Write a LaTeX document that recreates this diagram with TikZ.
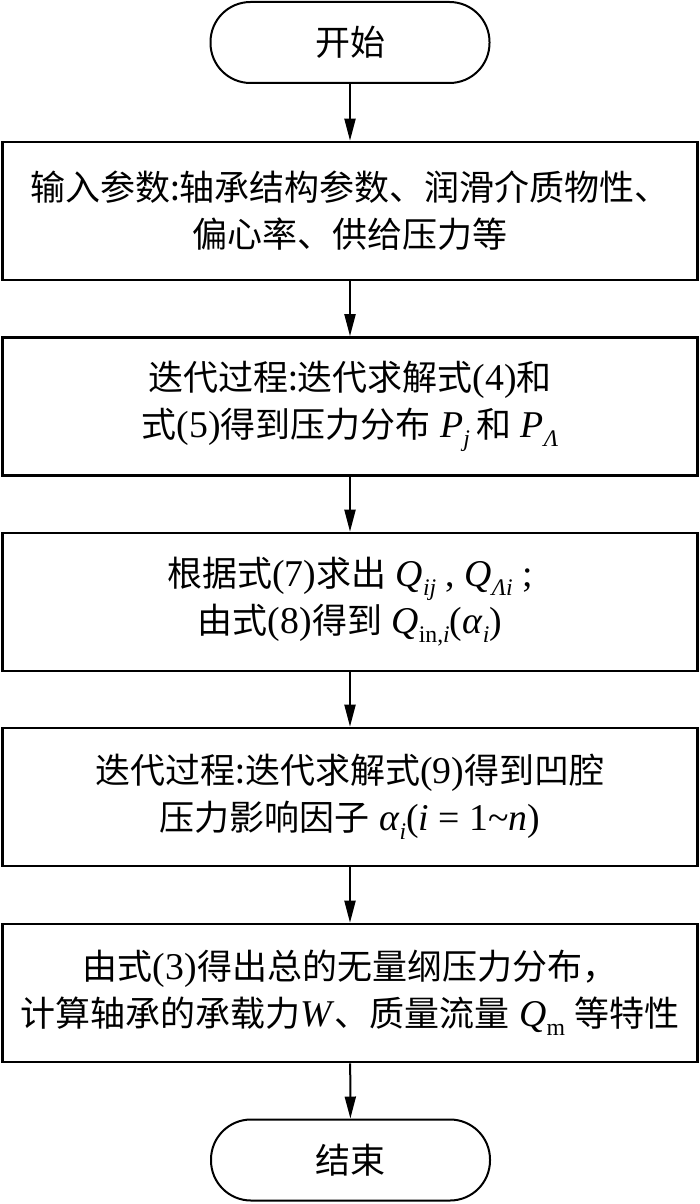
\documentclass[tikz,border=0pt]{standalone}
\usepackage{fontspec}
\setmainfont[Scale=1.08]{Liberation Serif}
\newfontfamily\cjk{Noto Sans CJK SC}
\usetikzlibrary{arrows.meta}
\newcommand\C[1]{{\cjk #1}}
\newcommand\sbs[1]{\raisebox{-9pt}{\fontsize{22}{22}\selectfont #1}}
\begin{document}
\begin{tikzpicture}[x=1pt,y=-1pt,
  box/.style={draw,line width=2.6pt,minimum width=695pt,minimum height=138pt,align=center,inner sep=0pt,font=\fontsize{35}{47}\selectfont},
  term/.style={draw,line width=2pt,rounded corners=40pt,minimum width=279pt,minimum height=81pt,inner sep=0pt,font=\fontsize{35}{47}\selectfont},
  arr/.style={line width=2pt,-{Triangle[length=22pt,width=11pt]}}]
\useasboundingbox (0,0) rectangle (700,1204);
\node[term] (start) at (350,42.5) {\C{开始}};
\node[box] (b1) at (350,211) {\C{输入参数:轴承结构参数、润滑介质物性、}\\\C{偏心率、供给压力等}};
\node[box] (b2) at (350,406.5) {\C{迭代过程:迭代求解式}(4)\C{和}\\\C{式}(5)\C{得到压力分布} \textit{P}\sbs{\textit{j}}\,\C{和} \textit{P}\sbs{\textit{Λ}}};
\node[box] (b3) at (350,602) {\C{根据式}(7)\C{求出} \textit{Q}\sbs{\textit{ij}} , \textit{Q}\sbs{\textit{Λi}} ;\\\C{由式}(8)\C{得到} \textit{Q}\sbs{in,\textit{i}}(\textit{α}\sbs{\textit{i}})};
\node[box] (b4) at (350,797) {\C{迭代过程:迭代求解式}(9)\C{得到凹腔}\\\C{压力影响因子} \textit{α}\sbs{\textit{i}}(\textit{i} = 1\textasciitilde\textit{n})};
\node[box] (b5) at (350,993) {\C{由式}(3)\C{得出总的无量纲压力分布，}\\\C{计算轴承的承载力}\textit{W}\C{、质量流量} \textit{Q}\sbs{m} \C{等特性}};
\node[term] (end) at (350.5,1160) {\C{结束}};
\draw[arr] (start) -- (b1);
\draw[arr] (b1) -- (b2);
\draw[arr] (b2) -- (b3);
\draw[arr] (b3) -- (b4);
\draw[arr] (b4) -- (b5);
\draw[arr] (b5) -- (end);
\end{tikzpicture}
\end{document}
